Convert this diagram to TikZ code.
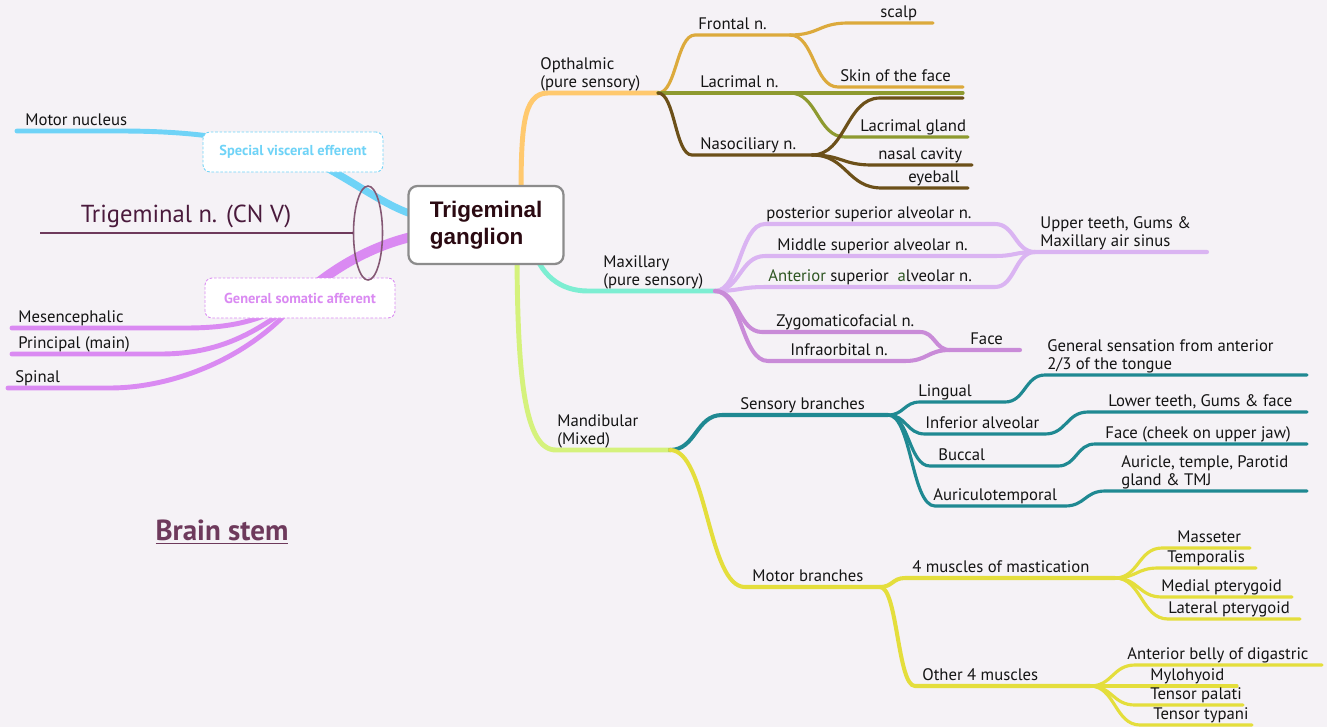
\documentclass[tikz,border=0pt]{standalone}
\usepackage{fontspec}
\setmainfont{PT Sans}
\newfontfamily\boxfont{Liberation Sans}
\usetikzlibrary{calc}
\usetikzlibrary{shapes.geometric}

\definecolor{paper}{HTML}{F5F2F6}
\definecolor{ink}{HTML}{141414}
\definecolor{gangink}{HTML}{2B0A12}
\definecolor{plum}{HTML}{6E3A5C}
\definecolor{plumdark}{HTML}{4A1A3C}
\definecolor{svecol}{HTML}{6FD3F7}
\definecolor{gsacol}{HTML}{DA8AF2}
\definecolor{opthcol}{HTML}{FFC96E}
\definecolor{frontcol}{HTML}{DCAA3C}
\definecolor{lacrcol}{HTML}{8E9A30}
\definecolor{nasocol}{HTML}{6C5019}
\definecolor{maxcol}{HTML}{7DEED2}
\definecolor{alvcol}{HTML}{DAB4F2}
\definecolor{zygcol}{HTML}{C98BD8}
\definecolor{mandcol}{HTML}{D5F27C}
\definecolor{senscol}{HTML}{1F8992}
\definecolor{motcol}{HTML}{E4DE3C}
\definecolor{antgreen}{HTML}{2E5622}

\pgfdeclarelayer{paperlayer}
\pgfdeclarelayer{nerves}
\pgfsetlayers{paperlayer,nerves,main}

\tikzset{
    lbl/.style={anchor=south west, inner sep=0pt, text depth=1pt, align=left, text=ink,
        font=\fontsize{9.5}{10.4}\selectfont},
    trunk/.style={line cap=round, line width=2.8pt},
    limb/.style={line cap=round, line width=2.3pt},
    twig/.style={line cap=round, line width=1.8pt},
    sbend/.style={to path={let \p1=(\tikztostart), \p2=(\tikztotarget) in
        .. controls ({(\x1+\x2)/2},\y1) and ({(\x1+\x2)/2},\y2) .. (\tikztotarget) \tikztonodes}},
    fiberbox/.style={draw, dash pattern=on 1.5pt off 1pt, rounded corners=4pt, fill=white,
        line width=0.5pt, minimum height=0.8cm, font=\bfseries\fontsize{8.2}{10}\selectfont},
}

\begin{document}
\begin{tikzpicture}[x=0.02cm, y=-0.02cm]
        \useasboundingbox (0,0) rectangle (1327,727);
        \begin{pgfonlayer}{paperlayer}
            \fill[paper] (0,0) rectangle (1327,727);
        \end{pgfonlayer}

        \node[draw=black!45, line width=1.3pt, rounded corners=5pt, fill=white, align=left,
            minimum width=3.1cm, minimum height=1.56cm, text=gangink,
            font=\boxfont\bfseries\fontsize{12.8}{15.3}\selectfont] (gang) at (486,225) {Trigeminal\\ganglion};

        \node[fiberbox, draw=svecol, text=svecol, minimum width=3.6cm] (sve) at (293,152) {Special visceral efferent};
        \node[fiberbox, draw=gsacol, text=gsacol, minimum width=3.8cm] (gsa) at (300,298) {General somatic afferent};
        \node[draw=plum!85, line width=0.9pt, ellipse, inner sep=0pt, minimum width=0.58cm, minimum height=1.88cm] (cnv) at (368,233) {};
        \node[text=plumdark, font=\fontsize{14}{16}\selectfont] (cnvname) at (186,216) {Trigeminal n. (CN V)};
        \node[text=plum, font=\bfseries\fontsize{16.5}{19}\selectfont] (bstem) at (222,532) {\underline{Brain stem}};
        \coordinate (ulL) at (40,233);
        \draw[plum, line width=0.6pt] (ulL) -- (cnv.west);

        % brain stem labels
        \node[lbl] (tMotor) at (25,128) {Motor nucleus};
        \node[lbl] (tMes) at (18,325) {Mesencephalic};
        \node[lbl] (tPrin) at (18,351) {Principal (main)};
        \node[lbl] (tSpin) at (15,385) {Spinal};

        % ophthalmic labels
        \node[lbl] (tOpth) at (540,90) {Opthalmic\\(pure sensory)};
        \node[lbl] (tFront) at (698,32) {Frontal n.};
        \node[lbl] (tScalp) at (880,20) {scalp};
        \node[lbl] (tSkin) at (840,84) {Skin of the face};
        \node[lbl] (tLacr) at (700,90) {Lacrimal n.};
        \node[lbl] (tGland) at (860,134) {Lacrimal gland};
        \node[lbl] (tNaso) at (700,152) {Nasociliary n.};
        \node[lbl] (tNasal) at (878,162) {nasal cavity};
        \node[lbl] (tEye) at (908,185) {eyeball};

        % maxillary labels
        \node[lbl] (tMax) at (603,288) {Maxillary\\(pure sensory)};
        \node[lbl] (tPost) at (766,221) {posterior superior alveolar n.};
        \node[lbl] (tMid) at (777,253) {Middle superior alveolar n.};
        \node[lbl] (tAnt) at (768,284) {{\color{antgreen}Anterior} superior\ \ {\color{antgreen}a}lveolar n.};
        \node[lbl] (tUpper) at (1040,249) {Upper teeth, Gums \&\\Maxillary air sinus};
        \node[lbl] (tZyg) at (776,329) {Zygomaticofacial n.};
        \node[lbl] (tInfra) at (790,358) {Infraorbital n.};
        \node[lbl] (tFace) at (970,347) {Face};

        % mandibular labels
        \node[lbl] (tMand) at (557,447) {Mandibular\\(Mixed)};
        \node[lbl] (tSens) at (740,412) {Sensory branches};
        \node[lbl] (tLing) at (918,399) {Lingual};
        \node[lbl] (tTongue) at (1047,372) {General sensation from anterior\\2/3 of the tongue};
        \node[lbl] (tInf) at (925,431) {Inferior alveolar};
        \node[lbl] (tLower) at (1108,409) {Lower teeth, Gums \& face};
        \node[lbl] (tBucc) at (938,463) {Buccal};
        \node[lbl] (tCheek) at (1105,441) {Face (cheek on upper jaw)};
        \node[lbl] (tAuri) at (933,503) {Auriculotemporal};
        \node[lbl] (tTMJ) at (1121,488) {Auricle, temple, Parotid\\gland \& TMJ};
        \node[lbl] (tMot) at (752,584) {Motor branches};
        \node[lbl] (tMast) at (912,575) {4 muscles of mastication};
        \node[lbl] (tMass) at (1177,545) {Masseter};
        \node[lbl] (tTemp) at (1167,565) {Temporalis};
        \node[lbl] (tMed) at (1161,594) {Medial pterygoid};
        \node[lbl] (tLat) at (1168,616) {Lateral pterygoid};
        \node[lbl] (tOther) at (922,683) {Other 4 muscles};
        \node[lbl] (tDig) at (1127,662) {Anterior belly of digastric};
        \node[lbl] (tMylo) at (1150,683) {Mylohyoid};
        \node[lbl] (tPal) at (1150,702) {Tensor palati};
        \node[lbl] (tTymp) at (1153,722) {Tensor typani};

        % branch points
        \coordinate (mnL) at (17,131);   \coordinate (mnR) at (120,131);
        \coordinate (mesL) at (12,328);  \coordinate (mesR) at (185,328);
        \coordinate (prL) at (12,354);   \coordinate (prR) at (160,354);
        \coordinate (spL) at (8,388);    \coordinate (spR) at (110,388);
        \coordinate (svein) at (415,215); \coordinate (gsain) at (415,236);

        \coordinate (op0) at (521,205); \coordinate (op1) at (548,93); \coordinate (op2) at (658,93);
        \coordinate (fr1) at (695,35);  \coordinate (fr2) at (790,35);
        \coordinate (sc1) at (848,23);  \coordinate (sc2) at (933,23);
        \coordinate (sk1) at (838,87);  \coordinate (sk2) at (963,87);
        \coordinate (lc1) at (790,93);  \coordinate (lc2) at (963,93);
        \coordinate (lg1) at (845,137); \coordinate (lg2) at (968,137);
        \coordinate (na1) at (692,155); \coordinate (na2) at (812,155);
        \coordinate (nu1) at (880,98);  \coordinate (nu2) at (963,98);
        \coordinate (nc1) at (872,165); \coordinate (nc2) at (972,165);
        \coordinate (ey1) at (882,188); \coordinate (ey2) at (968,188);

        \coordinate (mx0) at (532,245); \coordinate (mx1) at (588,291); \coordinate (mx2) at (715,291);
        \coordinate (ps1) at (765,224); \coordinate (ps2) at (995,224);
        \coordinate (ms1) at (765,256); \coordinate (ms2) at (995,256);
        \coordinate (as1) at (765,287); \coordinate (as2) at (995,287);
        \coordinate (ut0) at (1035,252); \coordinate (ut1) at (1207,252);
        \coordinate (zy1) at (762,332); \coordinate (zy2) at (920,332);
        \coordinate (io1) at (768,361); \coordinate (io2) at (905,361);
        \coordinate (fc0) at (950,350); \coordinate (fc1) at (1020,350);

        \coordinate (md0) at (517,245); \coordinate (md1) at (556,450); \coordinate (md2) at (670,450);
        \coordinate (se1) at (722,415); \coordinate (se2) at (888,415);
        \coordinate (li1) at (920,402); \coordinate (li2) at (1005,402);
        \coordinate (li3) at (1045,375); \coordinate (li4) at (1307,375);
        \coordinate (ia1) at (925,434); \coordinate (ia2) at (1045,434);
        \coordinate (ia3) at (1088,412); \coordinate (ia4) at (1307,412);
        \coordinate (bu1) at (930,466); \coordinate (bu2) at (1058,466);
        \coordinate (bu3) at (1095,444); \coordinate (bu4) at (1307,444);
        \coordinate (au1) at (935,506); \coordinate (au2) at (1065,506);
        \coordinate (au3) at (1105,491); \coordinate (au4) at (1307,491);
        \coordinate (mo1) at (745,587); \coordinate (mo2) at (880,587);
        \coordinate (fm1) at (905,578); \coordinate (fm2) at (1115,578);
        \coordinate (ma1) at (1162,548); \coordinate (ma2) at (1250,548);
        \coordinate (te1) at (1158,568); \coordinate (te2) at (1256,568);
        \coordinate (me1) at (1162,597); \coordinate (me2) at (1292,597);
        \coordinate (la1) at (1168,619); \coordinate (la2) at (1300,619);
        \coordinate (ot1) at (915,686); \coordinate (ot2) at (1090,686);
        \coordinate (ab1) at (1135,665); \coordinate (ab2) at (1322,665);
        \coordinate (my2) at (1237,686);
        \coordinate (tp1) at (1135,705); \coordinate (tp2) at (1243,705);
        \coordinate (tt1) at (1140,725); \coordinate (tt2) at (1252,725);

        \begin{pgfonlayer}{nerves}
            \begin{scope}[svecol]
                \draw[trunk] (mnL) -- (mnR) .. controls (200,131) and (240,140) .. (sve.center);
                \draw[line cap=round, line width=4.2pt] (sve.center) .. controls (340,170) and (380,205) .. (svein);
            \end{scope}

            \begin{scope}[gsacol]
                \draw[line cap=round, line width=5.5pt] (gsain) .. controls (370,246) and (330,270) .. (gsa.center);
                \draw[trunk] (gsa.center) .. controls (260,322) and (230,328) .. (mesR) -- (mesL);
                \draw[trunk] (gsa.center) .. controls (250,340) and (210,354) .. (prR) -- (prL);
                \draw[trunk] (gsa.center) .. controls (250,360) and (170,388) .. (spR) -- (spL);
            \end{scope}

            \draw[trunk, opthcol] (op0) .. controls (521,130) and (522,93) .. (op1) -- (op2);
            \begin{scope}[twig]
                \draw[frontcol] (op2) to[sbend] (fr1) -- (fr2);
                \draw[frontcol] (fr2) to[sbend] (sc1) -- (sc2);
                \draw[frontcol] (fr2) to[sbend] (sk1) -- (sk2);
                \draw[lacrcol] (op2) -- (lc1) -- (lc2);
                \draw[lacrcol] (lc1) to[sbend] (lg1) -- (lg2);
                \draw[nasocol] (op2) to[sbend] (na1) -- (na2);
                \draw[nasocol] (na2) to[sbend] (nu1) -- (nu2);
                \draw[nasocol] (na2) to[sbend] (nc1) -- (nc2);
                \draw[nasocol] (na2) to[sbend] (ey1) -- (ey2);
            \end{scope}

            \draw[trunk, maxcol] (mx0) .. controls (540,275) and (560,291) .. (mx1) -- (mx2);
            \begin{scope}[limb]
                \draw[alvcol] (mx2) to[sbend] (ps1) -- (ps2) to[sbend] (ut0);
                \draw[alvcol] (mx2) to[sbend] (ms1) -- (ms2) to[sbend] (ut0);
                \draw[alvcol] (mx2) to[sbend] (as1) -- (as2) to[sbend] (ut0) -- (ut1);
                \draw[zygcol] (mx2) to[sbend] (zy1) -- (zy2) to[sbend] (fc0);
                \draw[zygcol] (mx2) to[sbend] (io1) -- (io2) to[sbend] (fc0) -- (fc1);
            \end{scope}

            \draw[trunk, mandcol] (md0) .. controls (517,380) and (525,450) .. (md1) -- (md2);
            \begin{scope}[senscol]
                \draw[limb] (md2) to[sbend] (se1) -- (se2);
                \draw[twig] (se2) to[sbend] (li1) -- (li2) to[sbend] (li3) -- (li4);
                \draw[twig] (se2) to[sbend] (ia1) -- (ia2) to[sbend] (ia3) -- (ia4);
                \draw[twig] (se2) to[sbend] (bu1) -- (bu2) to[sbend] (bu3) -- (bu4);
                \draw[twig] (se2) to[sbend] (au1) -- (au2) to[sbend] (au3) -- (au4);
            \end{scope}

            \begin{scope}[motcol]
                \draw[limb] (md2) to[sbend] (mo1) -- (mo2);
                \draw[limb] (mo2) to[sbend] (fm1) -- (fm2);
                \draw[twig] (fm2) to[sbend] (ma1) -- (ma2);
                \draw[twig] (fm2) to[sbend] (te1) -- (te2);
                \draw[twig] (fm2) to[sbend] (me1) -- (me2);
                \draw[twig] (fm2) to[sbend] (la1) -- (la2);
                \draw[limb] (mo2) to[sbend] (ot1) -- (ot2);
                \draw[twig] (ot2) to[sbend] (ab1) -- (ab2);
                \draw[twig] (ot2) -- (my2);
                \draw[twig] (ot2) to[sbend] (tp1) -- (tp2);
                \draw[twig] (ot2) to[sbend] (tt1) -- (tt2);
            \end{scope}
        \end{pgfonlayer}

    \end{tikzpicture}
\end{document}
